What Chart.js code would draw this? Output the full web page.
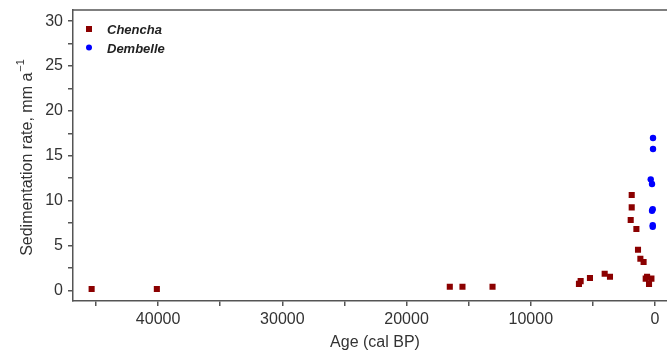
<!DOCTYPE html>
<html>
<head>
<meta charset="utf-8">
<script src="https://cdn.jsdelivr.net/npm/chart.js@4/dist/chart.umd.min.js"></script>
<style>
  html, body { margin: 0; padding: 0; background: #fff; overflow: hidden; }
  #wrap { width: 667px; height: 356px; position: relative; overflow: hidden; }
</style>
</head>
<body>
<div id="wrap"><canvas id="c" width="672" height="356"></canvas></div>
<script>
// Sedimentation rates (mm a^-1) against age (cal BP) for two lake records
const chenchaAge  = [45350, 40100, 16520, 15500, 13080, 6124, 5987, 5238, 4053, 3626,
                     1877, 1877, 1958, 1500, 1370, 1180, 920, 640, 750, 290, 483];
const chenchaRate = [0.15, 0.15, 0.4, 0.4, 0.4, 0.72, 1.03, 1.38, 1.85, 1.52,
                     10.62, 9.25, 7.84, 6.83, 4.52, 3.52, 3.15, 1.52, 1.3, 1.3, 0.7];

const dembelleAge  = [161, 161, 346, 242, 185, 242, 185, 185];
const dembelleRate = [16.98, 15.75, 12.37, 11.85, 9.03, 8.87, 7.25, 7.09];

const xTickValues = [0, 5000, 10000, 15000, 20000, 25000, 30000, 35000, 40000, 45000];
const yTickValues = [0, 2.5, 5, 7.5, 10, 12.5, 15, 17.5, 20, 22.5, 25, 27.5, 30];

const seriesNames = ['Chencha', 'Dembelle'];
const xTitle = 'Age (cal BP)';
const yTitle = 'Sedimentation rate, mm a';
const yTitleSup = '\u22121';

const RED = '#8b0000';
const BLUE = '#0000ff';
const AXIS = '#555555';
const TEXT = '#333333';

function toPoints(xs, ys) {
  return xs.map((x, i) => ({ x: x, y: ys[i] }));
}

// Frame line along the top, axis titles and the in-plot key
const decorations = {
  id: 'decorations',
  afterDraw(chart) {
    const ctx = chart.ctx;
    const a = chart.chartArea;
    ctx.save();

    ctx.strokeStyle = AXIS;
    ctx.lineWidth = 1.5;
    ctx.beginPath();
    ctx.moveTo(a.left - 0.75, a.top);
    ctx.lineTo(chart.width, a.top);
    ctx.stroke();

    ctx.fillStyle = TEXT;
    ctx.font = '16px "Liberation Sans", Arial, sans-serif';
    ctx.textAlign = 'center';
    ctx.textBaseline = 'middle';
    ctx.fillText(xTitle, 375, 343);

    // y title, rotated, with superscript exponent
    ctx.translate(32, 158);
    ctx.rotate(-Math.PI / 2);
    ctx.font = '16px "Liberation Sans", Arial, sans-serif';
    const mainW = ctx.measureText(yTitle).width;
    ctx.font = '11px "Liberation Sans", Arial, sans-serif';
    const supW = ctx.measureText(yTitleSup).width;
    const total = mainW + supW;
    ctx.textAlign = 'left';
    ctx.textBaseline = 'alphabetic';
    ctx.font = '16px "Liberation Sans", Arial, sans-serif';
    ctx.fillText(yTitle, -total / 2, 0);
    ctx.font = '11px "Liberation Sans", Arial, sans-serif';
    ctx.fillText(yTitleSup, -total / 2 + mainW + 1, -8);
    ctx.setTransform(1, 0, 0, 1, 0, 0);

    // key
    ctx.font = 'italic bold 13px "Liberation Sans", Arial, sans-serif';
    ctx.textAlign = 'left';
    ctx.textBaseline = 'middle';
    ctx.fillStyle = RED;
    ctx.fillRect(86, 26, 6, 6);
    ctx.fillStyle = BLUE;
    ctx.beginPath();
    ctx.arc(89, 47.5, 3, 0, Math.PI * 2);
    ctx.fill();
    ctx.fillStyle = '#222';
    ctx.fillText(seriesNames[0], 107, 30);
    ctx.fillText(seriesNames[1], 107, 49);

    ctx.restore();
  }
};

new Chart(document.getElementById('c'), {
  type: 'scatter',
  data: {
    datasets: [
      {
        label: seriesNames[0],
        data: toPoints(chenchaAge, chenchaRate),
        pointStyle: 'rect',
        pointRadius: 4.3,
        pointHoverRadius: 4.3,
        backgroundColor: RED,
        borderColor: RED,
        borderWidth: 0
      },
      {
        label: seriesNames[1],
        data: toPoints(dembelleAge, dembelleRate),
        pointStyle: 'circle',
        pointRadius: 3.2,
        pointHoverRadius: 3.2,
        backgroundColor: BLUE,
        borderColor: BLUE,
        borderWidth: 0
      }
    ]
  },
  plugins: [decorations],
  options: {
    responsive: false,
    animation: false,
    layout: { padding: { top: 10, right: 0, left: 0, bottom: 0 } },
    plugins: {
      legend: { display: false },
      tooltip: { enabled: false }
    },
    scales: {
      x: {
        type: 'linear',
        reverse: true,
        min: -1020,
        max: 46850,
        afterFit(scale) {
          scale.height = 55;
          scale.paddingLeft = 0;
          scale.paddingRight = 0;
        },
        afterBuildTicks(scale) { scale.ticks = xTickValues.map(v => ({ value: v })); },
        border: { display: true, color: AXIS, width: 1.5 },
        grid: { drawOnChartArea: false, drawTicks: true, tickLength: 5, color: AXIS, lineWidth: 1.5 },
        ticks: {
          autoSkip: false,
          maxRotation: 0,
          padding: 4,
          color: TEXT,
          font: { family: '"Liberation Sans", Arial, sans-serif', size: 16 },
          callback: v => (v % 10000 === 0 ? String(v) : '')
        }
      },
      y: {
        type: 'linear',
        min: -1.19,
        max: 31.25,
        afterFit(scale) {
          scale.width = 73;
          scale.paddingTop = 0;
          scale.paddingBottom = 0;
        },
        afterBuildTicks(scale) { scale.ticks = yTickValues.map(v => ({ value: v })); },
        border: { display: true, color: AXIS, width: 1.5 },
        grid: { drawOnChartArea: false, drawTicks: true, tickLength: 5, color: AXIS, lineWidth: 1.5 },
        ticks: {
          autoSkip: false,
          padding: 5,
          color: TEXT,
          font: { family: '"Liberation Sans", Arial, sans-serif', size: 16 },
          callback: v => (v % 5 === 0 ? String(v) : '')
        }
      }
    }
  }
});
</script>
</body>
</html>
